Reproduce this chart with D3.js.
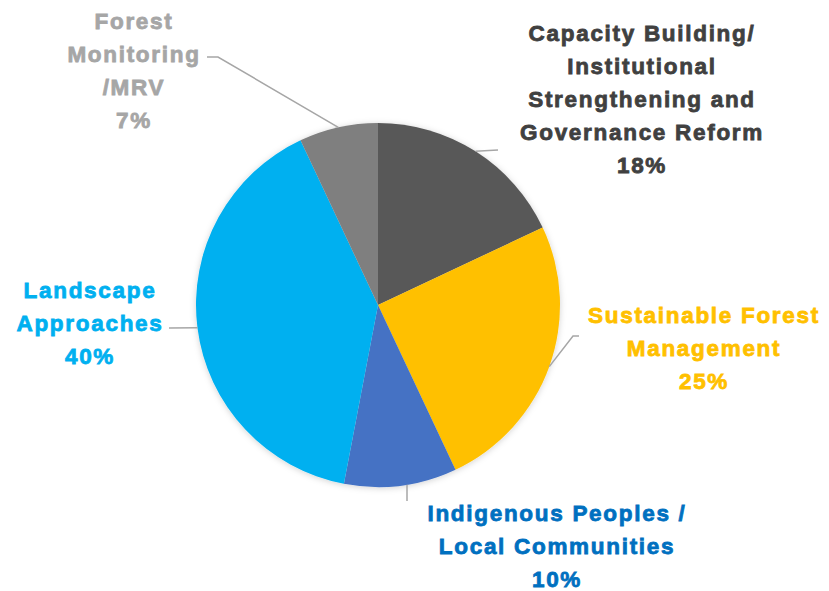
<!DOCTYPE html>
<html>
<head>
<meta charset="utf-8">
<script src="https://cdn.jsdelivr.net/npm/d3@7"></script>
<style>
  html, body { margin: 0; padding: 0; background: #ffffff; }
  svg { display: block; }
  text { font-family: "Liberation Sans", Arial, sans-serif; font-weight: 700; font-size: 22.5px; letter-spacing: 1.7px; }
</style>
</head>
<body>
<svg id="chart" width="829" height="591"></svg>
<script>
// Share of funding by thematic area (percent)
const categories = [
  "Capacity Building/ Institutional Strengthening and Governance Reform",
  "Sustainable Forest Management",
  "Indigenous Peoples / Local Communities",
  "Landscape Approaches",
  "Forest Monitoring /MRV"
];
const values = [18, 25, 10, 40, 7];
const sliceColors = ["#595959", "#FFC000", "#4472C4", "#00B0F0", "#7F7F7F"];
const labelColors = ["#404040", "#FFC000", "#0070C0", "#00B0F0", "#A6A6A6"];
// Label lines as wrapped in the chart
const labelLines = [
  ["Capacity Building/", "Institutional", "Strengthening and", "Governance Reform"],
  ["Sustainable Forest", "Management"],
  ["Indigenous Peoples /", "Local Communities"],
  ["Landscape", "Approaches"],
  ["Forest", "Monitoring", "/MRV"]
];

// Layout: label block centre (x, first line y) and leader route for each slice
const labelPos = [
  { x: 642, y: 33 },
  { x: 704, y: 315 },
  { x: 557, y: 513 },
  { x: 90,  y: 290 },
  { x: 134, y: 21 }
];
const leaderEnd = [
  [[498, 150]],
  [[573, 336], [579, 336]],
  [[407, 501]],
  [[169, 328]],
  [[218, 57], [207, 57]]
];
// Optional horizontal position where a leader leaves the pie edge
const leaderAnchorX = [null, null, 407, null, null];

const svg = d3.select("#chart");
const cx = 378, cy = 305, R = 182;

const defs = svg.append("defs");
const f = defs.append("filter").attr("id", "shadow")
  .attr("x", "-20%").attr("y", "-20%").attr("width", "140%").attr("height", "140%");
f.append("feDropShadow").attr("dx", 0).attr("dy", 1).attr("stdDeviation", 3)
  .attr("flood-color", "#000").attr("flood-opacity", 0.18);

const pie = d3.pie().sort(null).value(d => d)(values);
const arc = d3.arc().innerRadius(0).outerRadius(R);
const color = d3.scaleOrdinal().domain(categories).range(sliceColors);

const g = svg.append("g").attr("transform", `translate(${cx},${cy})`);
g.append("g").attr("filter", "url(#shadow)")
  .selectAll("path").data(pie).join("path")
  .attr("d", arc)
  .attr("fill", (d, i) => color(categories[i]));

// Leader lines from slice edge to label
pie.forEach((d, i) => {
  const mid = (d.startAngle + d.endAngle) / 2;
  let p0 = [cx + R * Math.sin(mid), cy - R * Math.cos(mid)];
  if (leaderAnchorX[i] !== null) {
    const dx = leaderAnchorX[i] - cx;
    const dy = Math.sqrt(R * R - dx * dx);
    p0 = [leaderAnchorX[i], cy + (Math.cos(mid) < 0 ? dy : -dy)];
  }
  const pts = [p0].concat(leaderEnd[i]);
  svg.append("path")
    .attr("d", d3.line()(pts))
    .attr("fill", "none")
    .attr("stroke", "#A6A6A6")
    .attr("stroke-width", 1.5);
});

// Labels: category lines plus percentage
const lineH = 33;
labelLines.forEach((lines, i) => {
  const all = lines.concat([values[i] + "%"]);
  const t = svg.append("text")
    .attr("text-anchor", "middle")
    .attr("fill", labelColors[i])
    .attr("stroke", labelColors[i])
    .attr("stroke-width", 0.8);
  all.forEach((s, k) => {
    t.append("tspan")
      .attr("x", labelPos[i].x)
      .attr("y", labelPos[i].y + k * lineH)
      .attr("dy", "0.35em")
      .text(s);
  });
});
</script>
</body>
</html>
